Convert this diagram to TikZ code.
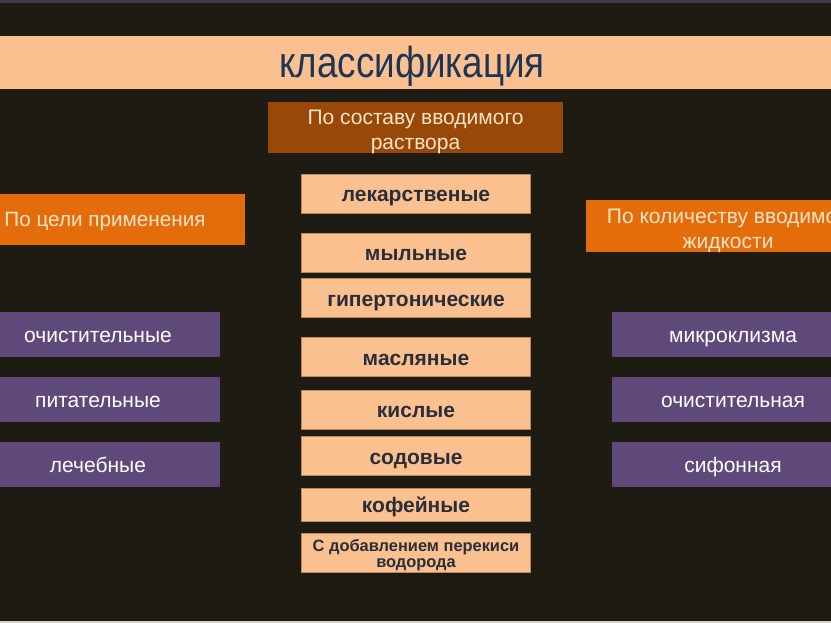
\documentclass[tikz,border=0pt]{standalone}
\usepackage{fontspec}
\setmainfont{Liberation Sans}
\newfontfamily\narrowfont[FakeStretch=0.85]{Liberation Sans}
\definecolor{bgc}{HTML}{1E1B13}
\definecolor{peach}{HTML}{FAC090}
\definecolor{peachedge}{HTML}{B88A5E}
\definecolor{brown}{HTML}{984807}
\definecolor{orng}{HTML}{E46C0A}
\definecolor{purp}{HTML}{5F497A}
\definecolor{titletext}{HTML}{1F3556}
\definecolor{darktext}{HTML}{2A2E38}
\definecolor{cream}{HTML}{FCE4C8}
\definecolor{stripc}{HTML}{3A3D44}
\tikzset{
  anybox/.style={rectangle, inner sep=0pt, align=center},
  peachbox/.style={anybox, fill=peach, draw=peachedge, line width=0.8pt, minimum width=229pt, text=darktext, font=\fontsize{21}{24}\selectfont\bfseries, text depth=0pt},
  purplebox/.style={anybox, fill=purp, minimum height=45pt, text=white, font=\fontsize{21}{24}\selectfont, text height=15pt, text depth=0pt},
  orangebox/.style={anybox, fill=orng},
  creamtext/.style={anybox, anchor=north, text=cream, font=\fontsize{21}{25}\selectfont},
}
\begin{document}
\begin{tikzpicture}[x=1pt,y=-1pt]
\clip (0,0) rectangle (831,623);
\fill[bgc] (0,0) rectangle (831,623);
\fill[stripc] (0,0) rectangle (831,3);
\fill[white!80!bgc] (0,621) rectangle (831,623);
% title band
\node[anybox, fill=peach, minimum width=831pt, minimum height=53pt] (band) at (415.5,62.5) {};
\node[anybox, anchor=base, text=titletext, font=\narrowfont\fontsize{43.3}{46}\selectfont] (title) at (412,78) {классификация};
% brown header
\node[anybox, fill=brown, minimum width=295pt, minimum height=51pt] (sostav) at (415.5,127.5) {};
\node[creamtext] (sostavt) at (415.5,110) {По составу вводимого\\раствора};
% side headers
\node[orangebox, minimum width=280pt, minimum height=51pt, text=cream, font=\fontsize{20.7}{24}\selectfont, text height=15pt, text depth=0pt] (cel) at (105,219.5) {По цели применения};
\node[orangebox, minimum width=304pt, minimum height=52pt] (kol) at (738,226) {};
\node[creamtext] (kolt) at (728,208) {По количеству вводимой\\жидкости};
% left purple
\node[purplebox, minimum width=244pt] (l1) at (98,334.5) {очистительные};
\node[purplebox, minimum width=244pt] (l2) at (98,399.5) {питательные};
\node[purplebox, minimum width=244pt] (l3) at (98,464.5) {лечебные};
% right purple
\node[purplebox, minimum width=242pt] (r1) at (733,334.5) {микроклизма};
\node[purplebox, minimum width=242pt] (r2) at (733,399.5) {очистительная};
\node[purplebox, minimum width=242pt] (r3) at (733,464.5) {сифонная};
% central column
\node[peachbox, minimum height=39pt, text height=17pt] (c1) at (416,193.5) {лекарственые};
\node[peachbox, minimum height=39pt, text height=16pt] (c2) at (416,252.5) {мыльные};
\node[peachbox, minimum height=39pt, text height=16pt] (c3) at (416,298) {гипертонические};
\node[peachbox, minimum height=39pt, text height=16pt] (c4) at (416,357) {масляные};
\node[peachbox, minimum height=39pt, text height=16pt] (c5) at (416,409.5) {кислые};
\node[peachbox, minimum height=39pt, text height=16pt] (c6) at (416,456) {содовые};
\node[peachbox, minimum height=33pt, text height=15pt] (c7) at (416,504.5) {кофейные};
\node[peachbox, minimum height=39pt] (c8) at (416,553) {};
\node[anybox, anchor=north, text=darktext, font=\fontsize{16.4}{16}\selectfont\bfseries] (c8t) at (416,539) {С добавлением перекиси\\водорода};
\end{tikzpicture}
\end{document}
